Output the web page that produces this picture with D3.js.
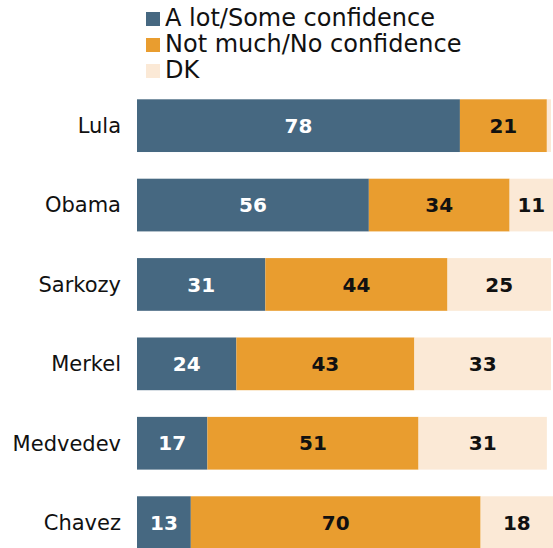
<!DOCTYPE html>
<html>
<head>
<meta charset="utf-8">
<script src="https://cdn.jsdelivr.net/npm/d3@7"></script>
<style>
  html, body { margin: 0; padding: 0; background: #fff; }
  svg { display: block; }
</style>
</head>
<body>
<script>
// Confidence in world leaders (%)
const leaders = ["Lula", "Obama", "Sarkozy", "Merkel", "Medvedev", "Chavez"];
const confident = [78, 56, 31, 24, 17, 13];
const notConfident = [21, 34, 44, 43, 51, 70];
const dontKnow = [1, 11, 25, 33, 31, 18];

const seriesNames = ["A lot/Some confidence", "Not much/No confidence", "DK"];
const seriesColors = ["#466881", "#e99d2f", "#fbe9d6"];
const labelColors = ["#ffffff", "#111111", "#111111"];

const W = 553, H = 548;
const svg = d3.select("body").append("svg").attr("width", W).attr("height", H);

const rows = leaders.map((name, i) => ({
  name,
  vals: [confident[i], notConfident[i], dontKnow[i]]
}));

const x = d3.scaleLinear().domain([0, 100]).range([137, 551]);
const y = d3.scaleBand().domain(leaders).range([99.3, 549]).paddingInner(0.336).paddingOuter(0);

// Legend
const legend = svg.append("g");
seriesNames.forEach((s, i) => {
  const g = legend.append("g").attr("transform", `translate(146, ${26 + i * 26})`);
  g.append("rect").attr("x", 0).attr("y", -14).attr("width", 14).attr("height", 14)
    .attr("fill", seriesColors[i]);
  g.append("text").attr("x", 19).attr("y", 0)
    .attr("font-family", "DejaVu Sans, Verdana, sans-serif")
    .attr("font-size", 24).attr("fill", "#111")
    .text(s);
});

// Bars
const rowG = svg.selectAll("g.row").data(rows).join("g").attr("class", "row")
  .attr("transform", d => `translate(0, ${y(d.name)})`);

rowG.append("text")
  .attr("x", 121).attr("y", y.bandwidth() / 2).attr("dy", "0.35em")
  .attr("text-anchor", "end")
  .attr("font-family", "DejaVu Sans, Verdana, sans-serif")
  .attr("font-size", 21).attr("fill", "#111")
  .text(d => d.name);

rowG.each(function(d) {
  const g = d3.select(this);
  let acc = 0;
  d.vals.forEach((v, k) => {
    const x0 = x(acc), x1 = x(acc + v);
    g.append("rect").attr("x", x0).attr("y", 0)
      .attr("width", x1 - x0).attr("height", y.bandwidth())
      .attr("fill", seriesColors[k]);
    if (v >= 5) {
      g.append("text")
        .attr("x", (x0 + Math.min(x1, W)) / 2).attr("y", y.bandwidth() / 2).attr("dy", "0.36em")
        .attr("text-anchor", "middle")
        .attr("font-family", "DejaVu Sans, Verdana, sans-serif")
        .attr("font-weight", "bold")
        .attr("font-size", 20).attr("fill", labelColors[k])
        .text(v);
    }
    acc += v;
  });
});
</script>
</body>
</html>
